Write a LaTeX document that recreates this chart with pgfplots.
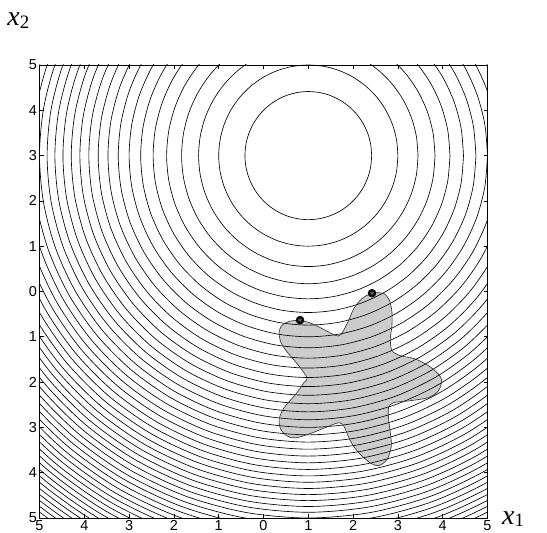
\documentclass[border=0pt]{standalone}
\usepackage{pgfplots}
\usepackage{pgfplotstable}
\usepackage{fontspec}
\setmainfont{Liberation Sans}
\newfontfamily\timesfont{Liberation Serif}
\pgfplotsset{compat=1.18}

% unit circle, sampled every 10 degrees (cos, sin)
\pgfplotstableread{
c s
1 0
0.9848 0.1736
0.9397 0.3420
0.8660 0.5
0.7660 0.6428
0.6428 0.7660
0.5 0.8660
0.3420 0.9397
0.1736 0.9848
0 1
-0.1736 0.9848
-0.3420 0.9397
-0.5 0.8660
-0.6428 0.7660
-0.7660 0.6428
-0.8660 0.5
-0.9397 0.3420
-0.9848 0.1736
-1 0
-0.9848 -0.1736
-0.9397 -0.3420
-0.8660 -0.5
-0.7660 -0.6428
-0.6428 -0.7660
-0.5 -0.8660
-0.3420 -0.9397
-0.1736 -0.9848
0 -1
0.1736 -0.9848
0.3420 -0.9397
0.5 -0.8660
0.6428 -0.7660
0.7660 -0.6428
0.8660 -0.5
0.9397 -0.3420
0.9848 -0.1736
1 0
}\unitcircle

% boundary of the feasible region
\pgfplotstableread{
x y
0.816 -0.631
1.089 -0.711
1.387 -0.860
1.609 -0.971
1.720 -0.956
1.867 -0.711
2.016 -0.378
2.200 -0.156
2.422 -0.038
2.682 -0.044
2.809 -0.193
2.867 -0.453
2.867 -0.749
2.831 -1.044
2.867 -1.304
3.053 -1.416
3.387 -1.489
3.682 -1.638
3.904 -1.822
3.978 -1.971
3.904 -2.193
3.682 -2.342
3.238 -2.416
2.904 -2.453
2.793 -2.564
2.793 -2.822
2.831 -3.120
2.853 -3.416
2.756 -3.711
2.571 -3.844
2.387 -3.787
2.127 -3.564
1.942 -3.304
1.793 -2.971
1.682 -2.898
1.460 -2.971
1.089 -3.120
0.720 -3.231
0.533 -3.193
0.387 -3.044
0.349 -2.822
0.460 -2.564
0.720 -2.267
0.904 -2.009
0.973 -1.904
0.756 -1.600
0.533 -1.342
0.387 -1.120
0.349 -0.898
0.409 -0.749
0.571 -0.660
0.816 -0.631
}\feasible

\begin{document}
\begin{tikzpicture}
\path[use as bounding box] (0,0) rectangle (547bp,533bp);
\begin{axis}[
  at={(39.5bp,15bp)}, anchor=south west,
  scale only axis, width=448bp, height=453bp,
  xmin=-5, xmax=5, ymin=-5, ymax=5,
  xtick={-5,...,5}, ytick={-5,...,5},
  xticklabels={5,4,3,2,1,0,1,2,3,4,5},
  yticklabels={5,4,3,2,1,0,1,2,3,4,5},
  tick align=inside, major tick length=4bp,
  tick style={black, line width=0.6pt},
  axis line style={black, line width=0.9pt},
  tick label style={font=\fontsize{14.5}{16}\selectfont},
  xticklabel style={yshift=1bp},
  yticklabel style={xshift=1bp},
  /pgf/number format/assume math mode=true,
]
% feasible region
\addplot[fill=black!20, draw=none, smooth, tension=0.5] table {\feasible};
% level sets of (x1-1)^2 + (x2-3)^2 at levels 2, 4, ..., 100
\pgfplotsinvokeforeach{1.4142,2.0000,2.4495,2.8284,3.1623,3.4641,3.7417,4.0000,4.2426,4.4721,
4.6904,4.8990,5.0990,5.2915,5.4772,5.6569,5.8310,6.0000,6.1644,6.3246,
6.4807,6.6332,6.7823,6.9282,7.0711,7.2111,7.3485,7.4833,7.6158,7.7460,
7.8740,8.0000,8.1240,8.2462,8.3666,8.4853,8.6023,8.7178,8.8318,8.9443,
9.0554,9.1652,9.2736,9.3808,9.4868,9.5917,9.6954,9.7980,9.8995,10.0000}{
  \addplot[black, line width=0.65pt, smooth] table[x expr={1+#1*\thisrow{c}}, y expr={3+#1*\thisrow{s}}] {\unitcircle};
}
% outline of the feasible region
\addplot[draw=black!80, line width=0.65pt, smooth, tension=0.5] table {\feasible};
% local solutions
\addplot[only marks, mark=*, mark size=4bp, black] coordinates {(0.816,-0.631) (2.422,-0.038)};
\addplot[only marks, mark=asterisk, mark size=2.6bp, black!55, line width=0.5pt] coordinates {(0.816,-0.631) (2.422,-0.038)};
\end{axis}
\node[anchor=base west, inner sep=0pt, font=\fontsize{28}{30}\selectfont] at (502bp,9bp)
  {{\timesfont\itshape x}\raisebox{-0.1em}{\fontsize{19}{20}\selectfont\timesfont 1}};
\node[anchor=base west, inner sep=0pt, font=\fontsize{28}{30}\selectfont] at (7.3bp,507bp)
  {{\timesfont\itshape x}\raisebox{-0.1em}{\fontsize{19}{20}\selectfont\timesfont 2}};
\end{tikzpicture}
\end{document}
